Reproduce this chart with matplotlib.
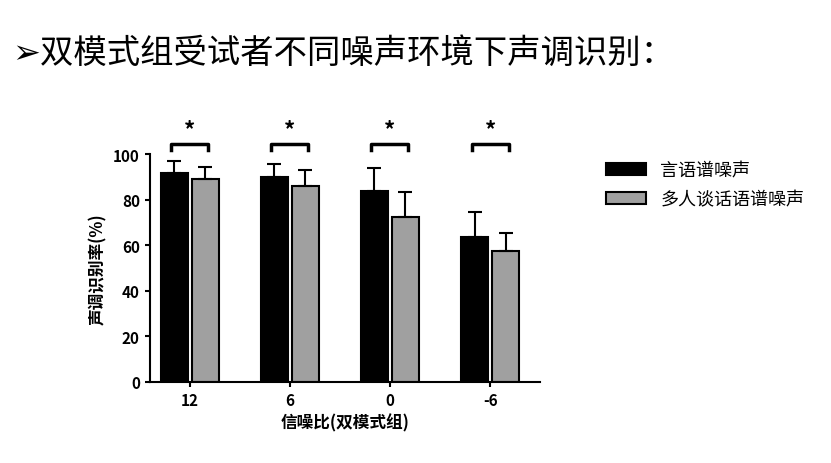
import matplotlib
matplotlib.use("Agg")
import matplotlib.pyplot as plt
from matplotlib.patches import Patch

plt.rcParams['font.family'] = ['Noto Sans CJK SC', 'DejaVu Sans']

categories = ['12', '6', '0', '-6']
speech = [92, 90, 84, 63.5]
speech_err = [5, 6, 10, 11]
babble = [89, 86, 72.5, 57.5]
babble_err = [5.5, 7, 11, 8]
series_names = ['言语谱噪声', '多人谈话语谱噪声']

fig = plt.figure(figsize=(8.31, 4.64), dpi=100)
fig.text(0.015, 0.885, '➢双模式组受试者不同噪声环境下声调识别：', fontsize=24,
         family=['Noto Sans CJK SC', 'DejaVu Sans'], va='center')
ax = fig.add_axes([0.18, 0.175, 0.47, 0.49])
x = list(range(len(categories)))
w = 0.27
ek = dict(lw=1.5, capthick=1.5)
ax.bar([i - w/2 - 0.02 for i in x], speech, w, yerr=[[0]*4, speech_err], color='black',
       edgecolor='black', linewidth=1.5, capsize=5, error_kw=ek)
ax.bar([i + w/2 + 0.02 for i in x], babble, w, yerr=[[0]*4, babble_err], color='#a0a0a0',
       edgecolor='black', linewidth=1.5, capsize=5, error_kw=ek)
ax.set_xlim(-0.4, 3.5)
ax.set_ylim(0, 100)
ax.set_yticks(range(0, 101, 20))
ax.set_xticks(x)
ax.set_xticklabels(categories, fontsize=11, fontweight='bold')
for t in ax.get_yticklabels():
    t.set_fontsize(11); t.set_fontweight('bold')
ax.set_ylabel('声调识别率(%)', fontsize=12, fontweight='bold')
ax.set_xlabel('信噪比(双模式组)', fontsize=12, fontweight='bold')
for s in ['top', 'right']:
    ax.spines[s].set_visible(False)
for s in ['left', 'bottom']:
    ax.spines[s].set_linewidth(1.5)
ax.tick_params(width=1.5)
for i in x:
    l, r = i - w/2 - 0.05, i + w/2 + 0.05
    ax.plot([l, l, r, r], [102, 104.5, 104.5, 102], color='black', lw=2.5, clip_on=False)
    ax.text(i, 106, '*', ha='center', va='bottom', fontsize=16, fontweight='bold')
handles = [Patch(facecolor='black', edgecolor='black', lw=1.5),
           Patch(facecolor='#a0a0a0', edgecolor='black', lw=1.5)]
fig.legend(handles, series_names, loc='upper left', bbox_to_anchor=(0.71, 0.685),
           frameon=False, fontsize=13, handlelength=2.2, labelspacing=0.6)
fig.savefig('out.png', dpi=100)
